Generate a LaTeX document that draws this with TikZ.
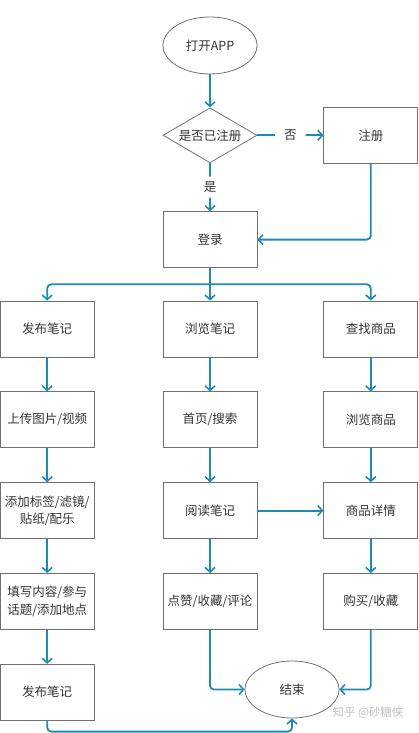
\documentclass[tikz,border=0pt]{standalone}
\usepackage{fontspec}
\setmainfont{Noto Sans CJK SC}
\usetikzlibrary{arrows.meta, shapes.geometric, positioning, calc}
\definecolor{flowblue}{HTML}{1E8AB4}
\definecolor{boxgray}{HTML}{707070}
\definecolor{txtgray}{HTML}{333333}
\tikzset{%
process box/.style={
    rectangle, draw=boxgray, line width=0.8pt,
    minimum width=94pt, minimum height=56pt,
    text width=92pt, align=center,
    font=\fontsize{12.5}{17.5}\selectfont, text=txtgray,
    inner sep=0pt
},
terminal/.style={
    ellipse, draw=boxgray, line width=0.8pt,
    minimum width=94pt, minimum height=57pt,
    font=\fontsize{12.5}{15}\selectfont, text=txtgray
},
decision/.style={
    diamond, draw=boxgray, line width=0.8pt,
    minimum width=94pt, minimum height=55pt, inner sep=0pt,
    label={[font=\fontsize{12.5}{15}\selectfont, text=txtgray]center:#1}
},
flow/.style={
    draw=flowblue, line width=1.8pt, rounded corners=4pt,
    -{Straight Barb[length=4.5pt, width=10pt, line width=1.6pt]}
},
answer/.style={
    fill=white, inner xsep=9pt, inner ysep=5pt,
    font=\fontsize{12.5}{15}\selectfont, text=txtgray
},
}
\begin{document}
\begin{tikzpicture}
\useasboundingbox (0,0) rectangle (418pt,-733pt);

\node[terminal] (open) at (210pt,-45.5pt) {打开APP};
\node[decision=是否已注册, below=33pt of open] (check) {};
\node[process box, right=66pt of check] (reg) {注册};
\node[process box, below=48pt of check] (login) {登录};

% three columns
\node[process box] (browse) at (210pt,-329pt) {浏览笔记};
\node[process box, left=68pt of browse] (post) {发布笔记};
\node[process box, right=66pt of browse] (find) {查找商品};

\node[process box, below=34pt of post] (upload) {上传图片/视频};
\node[process box, below=34pt of upload] (tags) {添加标签/滤镜/\\贴纸/配乐};
\node[process box, below=34pt of tags] (fill) {填写内容/参与\\话题/添加地点};
\node[process box, below=34pt of fill] (publish) {发布笔记};

\node[process box, below=34pt of browse] (home) {首页/搜索};
\node[process box, below=34pt of home] (read) {阅读笔记};
\node[process box, below=34pt of read] (like) {点赞/收藏/评论};

\node[process box, below=34pt of find] (goods) {浏览商品};
\node[process box, below=34pt of goods] (detail) {商品详情};
\node[process box, below=34pt of detail] (buy) {购买/收藏};

\node[terminal] (end) at (292pt,-689.5pt) {结束};

\node[text=black!25, font=\fontsize{11.5}{14}\selectfont] (mark) at (368pt,-713pt) {知乎 @砂糖侠};

\draw[flow] (open) -- (check);
\draw[flow] (check) -- node[answer] {否} (reg);
\draw[flow] (check) -- node[answer] {是} (login);
\draw[flow] (reg.south) |- (login.east);

\coordinate (split) at ($(login.south)!0.5!(browse.north)$);
\draw[flow] (login.south) -- (browse.north);
\draw[flow] (split) -| (post.north);
\draw[flow] (split) -| (find.north);

\draw[flow] (post) -- (upload);
\draw[flow] (upload) -- (tags);
\draw[flow] (tags) -- (fill);
\draw[flow] (fill) -- (publish);

\draw[flow] (browse) -- (home);
\draw[flow] (home) -- (read);
\draw[flow] (read) -- (like);
\draw[flow] (read) -- (detail);

\draw[flow] (find) -- (goods);
\draw[flow] (goods) -- (detail);
\draw[flow] (detail) -- (buy);

\draw[flow] (like.south) |- (end.west);
\draw[flow] (buy.south) |- (end.east);
\draw[flow] (publish.south) -- ++(0,-11pt) -| (end.south);
\end{tikzpicture}
\end{document}
